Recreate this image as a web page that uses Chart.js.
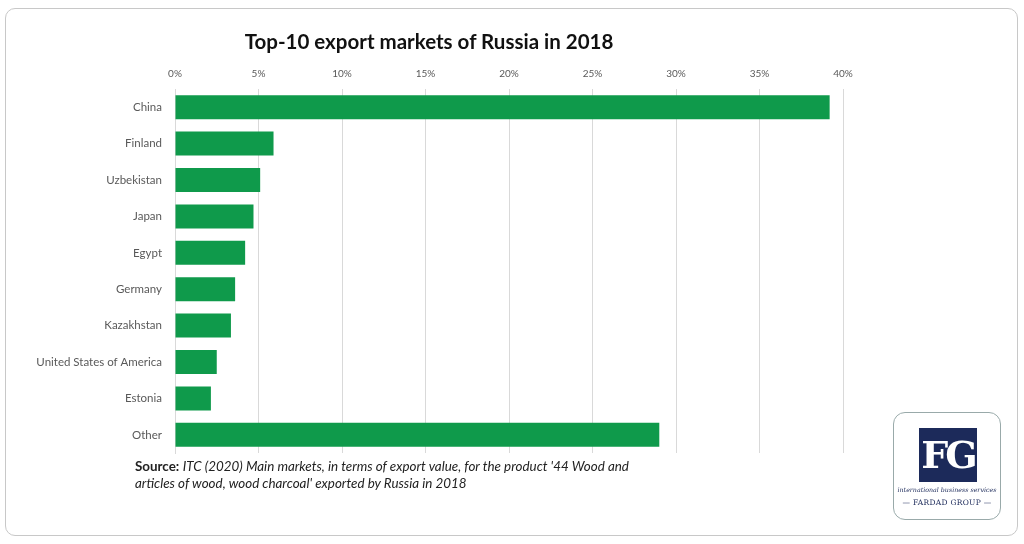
<!DOCTYPE html>
<html>
<head>
<meta charset="utf-8">
<script src="https://cdn.jsdelivr.net/npm/chart.js@4.4.1/dist/chart.umd.min.js"></script>
<style>
  html, body { margin: 0; padding: 0; background: #fff; }
  #wrap { position: relative; width: 1024px; height: 544px; overflow: hidden; }
  #frame {
    position: absolute; left: 5px; top: 8px; width: 1011px; height: 526px;
    border: 1.5px solid #c8c8c8; border-radius: 10px;
  }
  #chart { position: absolute; left: 0; top: 0; }
  #title {
    position: absolute; left: 0; width: 858px; top: 29px; text-align: center;
    font-family: Lato, sans-serif; font-weight: bold; font-size: 20.5px; color: #111;
  }
  #source {
    position: absolute; left: 135px; top: 458px; width: 515px;
    font-family: Lato, sans-serif; font-size: 13.4px; line-height: 17px; color: #222;
  }
  #source i { font-style: italic; }
  #logo {
    position: absolute; left: 893px; top: 412px; width: 106px; height: 106px;
    border: 1px solid #9aa; border-radius: 12px; background: #fff;
  }
  #fg {
    position: absolute; left: 25px; top: 15px; width: 58px; height: 54px;
    background: #1c2a5a; color: #fff; font-family: "DejaVu Serif", serif;
    font-weight: bold; font-size: 38px; line-height: 54px; text-align: center; letter-spacing: -3px;
  }
  #tag {
    position: absolute; left: 0; width: 106px; top: 73px; text-align: center; white-space: nowrap;
    font-family: "DejaVu Serif", serif; font-style: italic; font-size: 6.3px; color: #1c2a5a;
  }
  #grp {
    position: absolute; left: 0; width: 106px; top: 85px; text-align: center; white-space: nowrap;
    font-family: "DejaVu Serif", serif; font-size: 7.5px; color: #1c2a5a; letter-spacing: 0.3px;
  }
</style>
</head>
<body>
<div id="wrap">
  <div id="frame"></div>
  <canvas id="chart" width="1024" height="544"></canvas>
  <div id="title">Top-10 export markets of Russia in 2018</div>
  <div id="source"><b>Source:</b> <i>ITC (2020) Main markets, in terms of export value, for the product '44 Wood and articles of wood, wood charcoal' exported by Russia in 2018</i></div>
  <div id="logo">
    <div id="fg">FG</div>
    <div id="tag">international business services</div>
    <div id="grp">— FARDAD GROUP —</div>
  </div>
</div>
<script>
// Chart data
const countries = ["China", "Finland", "Uzbekistan", "Japan", "Egypt", "Germany",
  "Kazakhstan", "United States of America", "Estonia", "Other"];
const shares = [39.2, 5.9, 5.1, 4.7, 4.2, 3.6, 3.35, 2.5, 2.15, 29.0];
const tickValues = [0, 5, 10, 15, 20, 25, 30, 35, 40];

const ctx = document.getElementById("chart").getContext("2d");

new Chart(ctx, {
  type: "bar",
  data: {
    labels: countries,
    datasets: [{
      data: shares,
      backgroundColor: "#0f9a4b",
      borderWidth: 0,
      categoryPercentage: 0.66,
      barPercentage: 1
    }]
  },
  options: {
    indexAxis: "y",
    responsive: false,
    animation: false,
    layout: { padding: { left: 0, right: 181, top: 61, bottom: 91 } },
    plugins: {
      legend: { display: false },
      tooltip: { enabled: false }
    },
    scales: {
      x: {
        position: "top",
        min: 0,
        max: 40,
        afterFit: function (scale) { scale.height = 28; },
        afterBuildTicks: function (scale) {
          scale.ticks = tickValues.map(v => ({ value: v }));
        },
        ticks: {
          callback: v => v + "%",
          color: "#595959",
          font: { family: "Lato", size: 10 },
          padding: 9
        },
        grid: { color: "#d9d9d9", drawTicks: false },
        border: { display: false }
      },
      y: {
        afterFit: function (scale) { scale.width = 175; },
        ticks: {
          color: "#595959",
          font: { family: "Lato", size: 11.5 },
          padding: 5
        },
        grid: { display: false },
        border: { display: true, color: "#d9d9d9" }
      }
    }
  }
});
</script>
</body>
</html>
